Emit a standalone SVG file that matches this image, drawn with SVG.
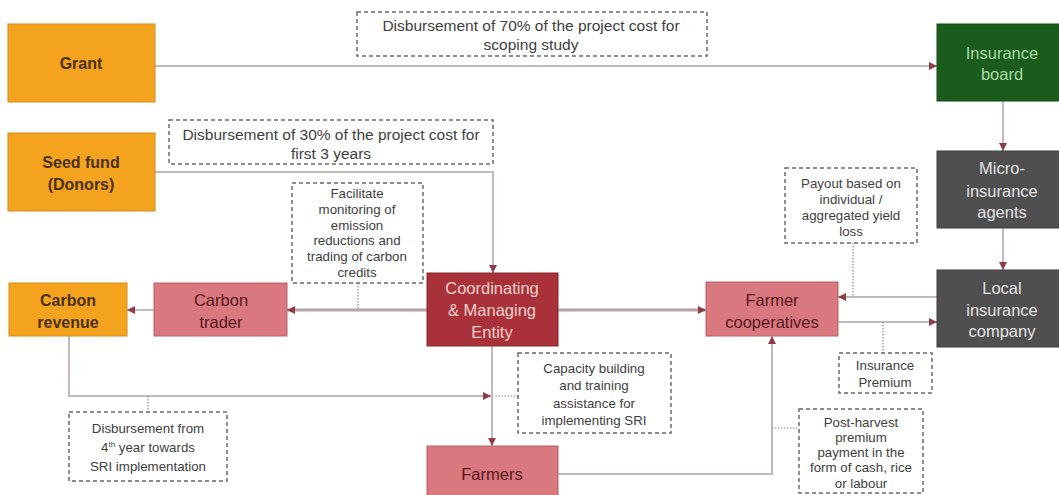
<svg xmlns="http://www.w3.org/2000/svg" width="1059" height="495" viewBox="0 0 1059 495">
  <style>
    text { font-family: "Liberation Sans", Arial, sans-serif; text-anchor: middle; }
    .node-text { font-size: 16.5px; }
    .orange rect { fill: #F4A31F; stroke: #D48C1A; stroke-width: 1; }
    .orange text { fill: #4A3008; font-weight: bold; font-size: 16px; }
    .pink rect { fill: #D9787F; stroke: #B86068; stroke-width: 1; }
    .pink text { fill: #561820; }
    .red rect { fill: #A8313A; stroke: #8A2630; stroke-width: 1; }
    .red text { fill: #F6D2CA; }
    .green rect { fill: #1B5C1C; stroke: #174A17; stroke-width: 1; }
    .green text { fill: #A9DBA4; }
    .grey rect { fill: #4F4F4F; stroke: #3E3E3E; stroke-width: 1; }
    .grey text { fill: #E4E4E4; }
    .note rect { fill: #FFFFFF; stroke: #6A6A6A; stroke-width: 1.5; stroke-dasharray: 4 3; }
    .note text { fill: #3E3E3E; font-size: 13.3px; }
    .note.big text { font-size: 15.5px; }
    .flow { fill: none; stroke: #C4B8BB; stroke-width: 2; }
    .flow.thick { stroke: #B8A2A7; stroke-width: 3; }
    .leader { fill: none; stroke: #8A8A8A; stroke-width: 1.2; stroke-dasharray: 1.5 1.5; }
  </style>
  <defs>
    <marker id="arrow" markerUnits="userSpaceOnUse" markerWidth="9" markerHeight="9" refX="8" refY="4" orient="auto">
      <path d="M0,0 L8,4 L0,8 z" fill="#8E3B4A"/>
    </marker>
  </defs>

  <!-- connectors -->
  <g id="connectors">
    <path class="flow" d="M155,66 H937" marker-end="url(#arrow)"/>
    <path class="flow" d="M155,172 H493 V273" marker-end="url(#arrow)"/>
    <path class="flow thick" d="M427,310 H287" marker-end="url(#arrow)"/>
    <path class="flow" d="M154,310 H127" marker-end="url(#arrow)"/>
    <path class="flow thick" d="M558,310 H706" marker-end="url(#arrow)"/>
    <path class="flow" d="M1003,101 V151" marker-end="url(#arrow)"/>
    <path class="flow" d="M1003,228 V270" marker-end="url(#arrow)"/>
    <path class="flow" d="M937,297 H838" marker-end="url(#arrow)"/>
    <path class="flow" d="M838,322 H937" marker-end="url(#arrow)"/>
    <path class="flow" d="M492,346 V446" marker-end="url(#arrow)"/>
    <path class="flow" d="M69,336 V396 H491" marker-end="url(#arrow)"/>
    <path class="flow" d="M558,474 H772 V336" marker-end="url(#arrow)"/>
    <!-- dotted leaders from notes -->
    <path class="leader" d="M358,283 V310"/>
    <path class="leader" d="M853,243 V297"/>
    <path class="leader" d="M883,322 V353"/>
    <path class="leader" d="M148,396 V412"/>
    <path class="leader" d="M518,396 H494"/>
    <path class="leader" d="M772,428 H799"/>
  </g>

  <!-- nodes -->
  <g id="grant" class="orange">
    <rect x="8" y="24" width="147" height="78"/>
    <text x="81" y="69">Grant</text>
  </g>
  <g id="seed-fund" class="orange">
    <rect x="8" y="133" width="147" height="78"/>
    <text x="81" y="168">Seed fund</text>
    <text x="81" y="190">(Donors)</text>
  </g>
  <g id="carbon-revenue" class="orange">
    <rect x="9" y="283" width="118" height="53"/>
    <text x="68" y="306">Carbon</text>
    <text x="68" y="328">revenue</text>
  </g>
  <g id="carbon-trader" class="pink node-text">
    <rect x="154" y="283" width="133" height="53"/>
    <text x="221" y="306">Carbon</text>
    <text x="221" y="328">trader</text>
  </g>
  <g id="coordinating-entity" class="red node-text">
    <rect x="427" y="273" width="131" height="73"/>
    <text x="492" y="294">Coordinating</text>
    <text x="492" y="316">&amp; Managing</text>
    <text x="492" y="338">Entity</text>
  </g>
  <g id="farmer-cooperatives" class="pink node-text">
    <rect x="706" y="282" width="132" height="54"/>
    <text x="772" y="306">Farmer</text>
    <text x="772" y="328">cooperatives</text>
  </g>
  <g id="farmers" class="pink node-text">
    <rect x="427" y="446" width="131" height="60"/>
    <text x="492" y="480">Farmers</text>
  </g>
  <g id="insurance-board" class="green node-text">
    <rect x="937" y="24" width="130" height="77"/>
    <text x="1002" y="59">Insurance</text>
    <text x="1002" y="80">board</text>
  </g>
  <g id="micro-insurance-agents" class="grey node-text">
    <rect x="937" y="151" width="130" height="77"/>
    <text x="1002" y="174">Micro-</text>
    <text x="1002" y="197">insurance</text>
    <text x="1002" y="218">agents</text>
  </g>
  <g id="local-insurance-company" class="grey node-text">
    <rect x="937" y="270" width="130" height="77"/>
    <text x="1002" y="294">Local</text>
    <text x="1002" y="316">insurance</text>
    <text x="1002" y="337">company</text>
  </g>

  <!-- notes -->
  <g id="note-grant" class="note big">
    <rect x="357" y="12" width="350" height="44"/>
    <text x="531" y="31">Disbursement of 70% of the project cost for</text>
    <text x="531" y="50">scoping study</text>
  </g>
  <g id="note-seed" class="note big">
    <rect x="169" y="120" width="324" height="44"/>
    <text x="331" y="140">Disbursement of 30% of the project cost for</text>
    <text x="331" y="159">first 3 years</text>
  </g>
  <g id="note-carbon" class="note">
    <rect x="292" y="183" width="131" height="100"/>
    <text x="357" y="198">Facilitate</text>
    <text x="357" y="214">monitoring of</text>
    <text x="357" y="230">emission</text>
    <text x="357" y="245">reductions and</text>
    <text x="357" y="261">trading of carbon</text>
    <text x="357" y="277">credits</text>
  </g>
  <g id="note-payout" class="note">
    <rect x="785" y="168" width="132" height="75"/>
    <text x="851" y="188">Payout based on</text>
    <text x="851" y="204">individual  /</text>
    <text x="851" y="220">aggregated yield</text>
    <text x="851" y="236">loss</text>
  </g>
  <g id="note-capacity" class="note">
    <rect x="518" y="353" width="153" height="80"/>
    <text x="594" y="373">Capacity building</text>
    <text x="594" y="390">and training</text>
    <text x="594" y="408">assistance for</text>
    <text x="594" y="425">implementing SRI</text>
  </g>
  <g id="note-revenue" class="note">
    <rect x="69" y="412" width="158" height="69"/>
    <text x="148" y="433">Disbursement from</text>
    <text x="148" y="452">4<tspan font-size="8" dy="-5">th</tspan><tspan dy="5"> year towards</tspan></text>
    <text x="148" y="471">SRI implementation</text>
  </g>
  <g id="note-premium" class="note">
    <rect x="839" y="353" width="93" height="40"/>
    <text x="885" y="370">Insurance</text>
    <text x="885" y="387">Premium</text>
  </g>
  <g id="note-post-harvest" class="note">
    <rect x="799" y="409" width="124" height="84"/>
    <text x="861" y="427">Post-harvest</text>
    <text x="861" y="442">premium</text>
    <text x="861" y="457">payment in the</text>
    <text x="861" y="472">form of cash, rice</text>
    <text x="861" y="488">or labour</text>
  </g>
</svg>
